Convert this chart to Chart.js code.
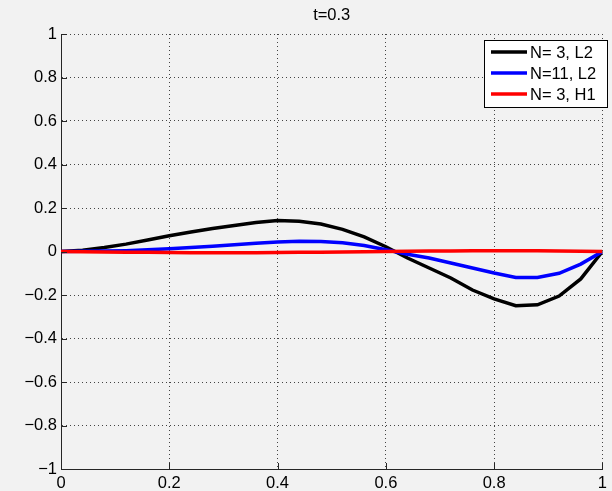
<!DOCTYPE html>
<html>
<head>
<meta charset="utf-8">
<script src="https://cdn.jsdelivr.net/npm/chart.js@4.4.1/dist/chart.umd.min.js"></script>
<style>
  html, body { margin: 0; padding: 0; background: #f2f2f2; }
  canvas { display: block; }
</style>
</head>
<body>
<canvas id="grafico" width="612" height="491"></canvas>
<script>
const titulo = "t=0.3";
const xValores = [0, 0.04, 0.08, 0.12, 0.16, 0.2, 0.24, 0.28, 0.32, 0.36, 0.4, 0.44, 0.48,
  0.52, 0.56, 0.6, 0.64, 0.68, 0.72, 0.76, 0.8, 0.84, 0.88, 0.92, 0.96, 1];

const etiquetas = ["N= 3, L2", "N=11, L2", "N= 3, H1"];
const colores = ["#000000", "#0000ff", "#ff0000"];

const serieN3L2 = [0, 0.006, 0.018, 0.034, 0.053, 0.072, 0.09, 0.106, 0.12, 0.133, 0.142,
  0.139, 0.126, 0.102, 0.067, 0.022, -0.03, -0.076, -0.122, -0.177, -0.218, -0.249,
  -0.245, -0.205, -0.126, 0];
const serieN11L2 = [0, 0.001, 0.002, 0.004, 0.008, 0.013, 0.018, 0.024, 0.031, 0.038, 0.044,
  0.047, 0.046, 0.04, 0.028, 0.008, -0.013, -0.03, -0.053, -0.076, -0.099, -0.119, -0.119,
  -0.1, -0.058, 0];
const serieN3H1 = [0, -0.001, -0.002, -0.003, -0.004, -0.005, -0.006, -0.006, -0.006, -0.006,
  -0.005, -0.004, -0.003, -0.002, -0.001, 0, 0.001, 0.002, 0.002, 0.003, 0.003, 0.003, 0.003,
  0.002, 0.001, 0];

const series = [serieN3L2, serieN11L2, serieN3H1];
const ticksX = [0, 0.2, 0.4, 0.6, 0.8, 1];
const ticksY = [-1, -0.8, -0.6, -0.4, -0.2, 0, 0.2, 0.4, 0.6, 0.8, 1];

const fuente = "'Liberation Sans', Arial, sans-serif";

function formato(v) {
  const r = Math.round(v * 10) / 10;
  return r < 0 ? "\u2212" + String(-r) : String(r);
}

const pluginFondo = {
  id: "fondo",
  beforeDraw(chart) {
    const c = chart.ctx;
    c.save();
    c.fillStyle = "#f2f2f2";
    c.fillRect(0, 0, chart.width, chart.height);
    c.restore();
  }
};

const pluginExtras = {
  id: "extras",
  afterDraw(chart) {
    const c = chart.ctx;
    const area = chart.chartArea;
    const sx = chart.scales.x;
    const sy = chart.scales.y;

    // marcas hacia adentro
    c.save();
    c.strokeStyle = "#262626";
    c.lineWidth = 1;
    c.beginPath();
    ticksX.forEach(v => {
      const px = Math.round(sx.getPixelForValue(v)) + 0.5;
      c.moveTo(px, area.bottom);
      c.lineTo(px, area.bottom - 6);
    });
    ticksY.forEach(v => {
      const py = Math.round(sy.getPixelForValue(v)) + 0.5;
      c.moveTo(area.left, py);
      c.lineTo(area.left + 6, py);
    });
    c.stroke();

    // titulo
    c.fillStyle = "#000";
    c.font = "16.5px " + fuente;
    c.textAlign = "center";
    c.textBaseline = "alphabetic";
    c.fillText(titulo, (area.left + area.right) / 2, 20);

    // leyenda
    const lx = 484, ly = 40, lw = 123, lh = 67;
    c.fillStyle = "#ffffff";
    c.fillRect(lx, ly, lw, lh);
    c.strokeStyle = "#000";
    c.strokeRect(lx + 0.5, ly + 0.5, lw, lh);
    c.font = "16.5px " + fuente;
    c.textAlign = "left";
    c.textBaseline = "middle";
    chart.data.datasets.forEach((ds, i) => {
      const y = ly + 12 + i * 21;
      c.strokeStyle = ds.borderColor;
      c.lineWidth = 3.5;
      c.beginPath();
      c.moveTo(lx + 7, y);
      c.lineTo(lx + 43, y);
      c.stroke();
      c.fillStyle = "#000";
      c.fillText(ds.label, lx + 46, y + 1);
    });
    c.restore();
  }
};

const ctx = document.getElementById("grafico").getContext("2d");
const grafico = new Chart(ctx, {
  type: "line",
  data: {
    datasets: series.map((s, i) => ({
      label: etiquetas[i],
      data: s.map((v, j) => ({ x: xValores[j], y: v })),
      borderColor: colores[i],
      borderWidth: 3.5,
      pointRadius: 0,
      tension: 0,
      fill: false,
      order: 2 - i
    }))
  },
  options: {
    responsive: false,
    animation: false,
    events: [],
    layout: { autoPadding: false, padding: { top: 34, right: 1, left: 0, bottom: 0 } },
    plugins: { legend: { display: false }, tooltip: { enabled: false } },
    scales: {
      x: {
        type: "linear",
        min: 0,
        max: 1,
        afterBuildTicks: s => { s.ticks = ticksX.map(v => ({ value: v })); },
        afterFit: s => { s.height = 22; },
        grid: { color: "#444", lineWidth: 1, drawTicks: false },
        border: { color: "#262626", width: 1, dash: [1, 3] },
        ticks: {
          padding: 5,
          color: "#000",
          maxRotation: 0,
          autoSkip: false,
          font: { family: fuente, size: 16.5 },
          callback: v => formato(v)
        }
      },
      y: {
        type: "linear",
        min: -1,
        max: 1,
        afterBuildTicks: s => { s.ticks = ticksY.map(v => ({ value: v })); },
        afterFit: s => { s.width = 61; },
        grid: { color: "#444", lineWidth: 1, drawTicks: false },
        border: { color: "#262626", width: 1, dash: [1, 3] },
        ticks: {
          padding: 4,
          color: "#000",
          autoSkip: false,
          font: { family: fuente, size: 16.5 },
          callback: v => formato(v)
        }
      }
    }
  },
  plugins: [pluginFondo, pluginExtras]
});
</script>
</body>
</html>
